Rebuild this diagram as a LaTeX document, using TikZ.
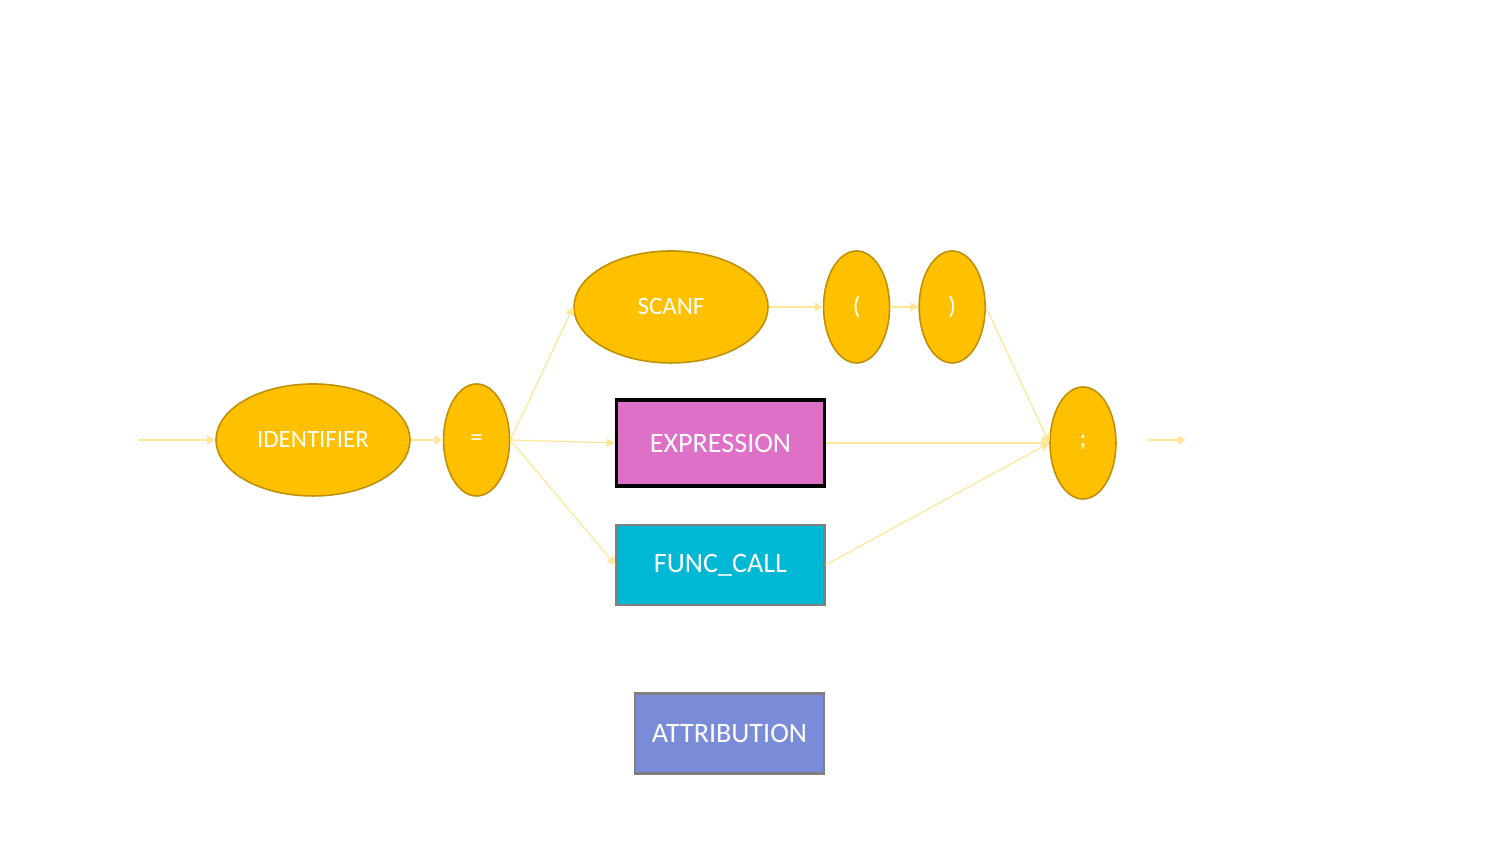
\documentclass[tikz,border=0pt]{standalone}
\usepackage{fontspec}
\setmainfont{Carlito}
\usetikzlibrary{arrows.meta, positioning, shapes.geometric}
\definecolor{gold}{RGB}{255,192,0}
\definecolor{golddark}{RGB}{191,144,0}
\definecolor{paleline}{RGB}{255,230,153}
\definecolor{pink}{RGB}{222,112,200}
\definecolor{cyanbox}{RGB}{0,183,212}
\definecolor{bluebox}{RGB}{122,139,216}
\definecolor{greyline}{RGB}{127,127,127}

\begin{document}
\begin{tikzpicture}[every node/.style={font=\fontsize{7.1}{9}\selectfont, text=white},
   token/.style={ellipse, draw=golddark, line width=0.45pt, fill=gold,
                 minimum height=1.12cm, inner sep=0pt},
   word/.style={token, minimum width=1.94cm},
   sym/.style={token, minimum width=0.66cm},
   rule/.style={draw=greyline, line width=0.6pt, minimum width=2.08cm,
                minimum height=0.8cm, inner sep=0pt, font=\fontsize{8}{10}\selectfont},
   flow/.style={-{Triangle[length=2.3pt, width=2.6pt]}, paleline, line width=0.35pt}]
  \useasboundingbox (0,0) rectangle (15,8.44);

  \node[word] (ident) at (3.13,4.04) {IDENTIFIER};
  \node[sym, right=0.32cm of ident] (eq) {=};
  \node[word] (scanf) at (6.71,5.37) {SCANF};
  \node[sym, right=0.54cm of scanf] (lpar) {(};
  \node[sym, right=0.28cm of lpar] (rpar) {)};
  \node[sym] (semi) at (10.83,4.01) {;};

  \node[rule, draw=black, line width=1.1pt, fill=pink, minimum height=0.86cm]
       (expr) at (7.205,4.01) {EXPRESSION};
  \node[rule, fill=cyanbox, below=0.36cm of expr] (func) {FUNC\_CALL};
  \node[rule, fill=bluebox, minimum width=1.89cm] (attr) at (7.295,1.105) {ATTRIBUTION};

  \coordinate (in) at (1.38,4.04);
  \coordinate (outa) at (11.48,4.04);
  \coordinate (outb) at (11.86,4.04);

  \draw[flow] (in) -- (ident);
  \draw[flow] (ident) -- (eq);
  \draw[flow] (eq.east) -- (scanf.west);
  \draw[flow] (eq.east) -- (expr.west);
  \draw[flow] (eq.east) -- (func.west);
  \draw[flow] (scanf) -- (lpar);
  \draw[flow] (lpar) -- (rpar);
  \draw[flow] (rpar.east) -- (semi.west);
  \draw[flow] (expr.east) -- (semi.west);
  \draw[flow] (func.east) -- (semi.west);
  \draw[flow] (outa) -- (outb);
\end{tikzpicture}
\end{document}
